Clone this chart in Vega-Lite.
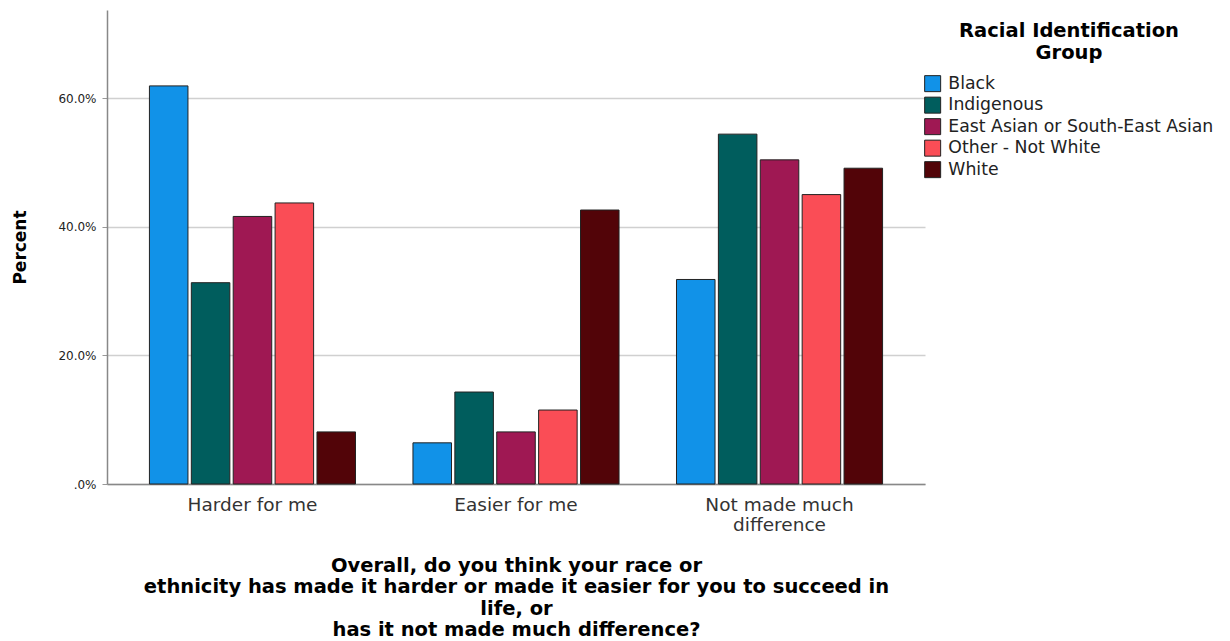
{
  "$schema": "https://vega.github.io/schema/vega-lite/v6.json",
  "width": 818,
  "height": 474,
  "autosize": {"type": "none"},
  "padding": {"left": 107, "top": 10, "right": 305, "bottom": 157},
  "background": "white",
  "config": {
    "font": "DejaVu Sans",
    "view": {"stroke": null}
  },
  "data": {
    "values": [
      {"q": "Harder for me", "group": "Black", "pct": 61.9},
      {"q": "Harder for me", "group": "Indigenous", "pct": 31.3},
      {"q": "Harder for me", "group": "East Asian or South-East Asian", "pct": 41.6},
      {"q": "Harder for me", "group": "Other - Not White", "pct": 43.7},
      {"q": "Harder for me", "group": "White", "pct": 8.1},
      {"q": "Easier for me", "group": "Black", "pct": 6.4},
      {"q": "Easier for me", "group": "Indigenous", "pct": 14.3},
      {"q": "Easier for me", "group": "East Asian or South-East Asian", "pct": 8.1},
      {"q": "Easier for me", "group": "Other - Not White", "pct": 11.5},
      {"q": "Easier for me", "group": "White", "pct": 42.6},
      {"q": "Not made much difference", "group": "Black", "pct": 31.8},
      {"q": "Not made much difference", "group": "Indigenous", "pct": 54.4},
      {"q": "Not made much difference", "group": "East Asian or South-East Asian", "pct": 50.4},
      {"q": "Not made much difference", "group": "Other - Not White", "pct": 45.0},
      {"q": "Not made much difference", "group": "White", "pct": 49.1}
    ]
  },
  "mark": {"type": "bar", "stroke": "#222222", "strokeWidth": 1},
  "encoding": {
    "x": {
      "field": "q",
      "type": "nominal",
      "sort": ["Harder for me", "Easier for me", "Not made much difference"],
      "scale": {"paddingInner": 0.218, "paddingOuter": 0.161},
      "axis": {
        "title": ["Overall, do you think your race or", "ethnicity has made it harder or made it easier for you to succeed in", "life, or", "has it not made much difference?"],
        "titleFont": "DejaVu Sans",
        "titleFontSize": 19.5,
        "titleFontWeight": "bold",
        "titleColor": "#000000",
        "titleLineHeight": 21.3,
        "titlePadding": 23,
        "labelAngle": 0,
        "labelFontSize": 18.5,
        "labelColor": "#333333",
        "labelPadding": 11,
        "labelLineHeight": 20,
        "labelExpr": "datum.label == 'Not made much difference' ? ['Not made much', 'difference'] : datum.label",
        "ticks": false,
        "domainColor": "#888888",
        "domainWidth": 1.5
      }
    },
    "xOffset": {
      "field": "group",
      "type": "nominal",
      "sort": ["Black", "Indigenous", "East Asian or South-East Asian", "Other - Not White", "White"],
      "scale": {"paddingInner": 0.08}
    },
    "y": {
      "field": "pct",
      "type": "quantitative",
      "scale": {"domain": [0, 73.7], "nice": false},
      "axis": {
        "title": "Percent",
        "titleFontSize": 17,
        "titleFontWeight": "bold",
        "titleColor": "#000000",
        "titlePadding": 28,
        "values": [0, 20, 40, 60],
        "labelExpr": "datum.value == 0 ? '.0%' : format(datum.value, '.1f') + '%'",
        "labelFontSize": 12,
        "labelColor": "#222222",
        "labelPadding": 6,
        "tickSize": 5,
        "tickColor": "#999999",
        "gridColor": "#d0d0d0",
        "gridWidth": 1.5,
        "domainColor": "#888888",
        "domainWidth": 1.5
      }
    },
    "color": {
      "field": "group",
      "type": "nominal",
      "sort": ["Black", "Indigenous", "East Asian or South-East Asian", "Other - Not White", "White"],
      "scale": {
        "domain": ["Black", "Indigenous", "East Asian or South-East Asian", "Other - Not White", "White"],
        "range": ["#1192e8", "#005d5d", "#9f1853", "#fa4d56", "#520408"]
      },
      "legend": {
        "orient": "none",
        "legendX": 817,
        "legendY": 12,
        "title": ["Racial Identification", "Group"],
        "titleFontSize": 19.5,
        "titleFontWeight": "bold",
        "titleColor": "#000000",
        "titleAnchor": "middle",
        "titleAlign": "center",
        "titleLineHeight": 21.5,
        "titleLimit": 0,
        "titlePadding": 12,
        "labelFontSize": 17.3,
        "labelColor": "#222222",
        "labelLimit": 0,
        "symbolType": "square",
        "symbolSize": 256,
        "symbolStrokeColor": "#222222",
        "symbolStrokeWidth": 1,
        "symbolOpacity": 1,
        "rowPadding": 0.5,
        "labelOffset": 7,
        "padding": 0
      }
    }
  }
}
